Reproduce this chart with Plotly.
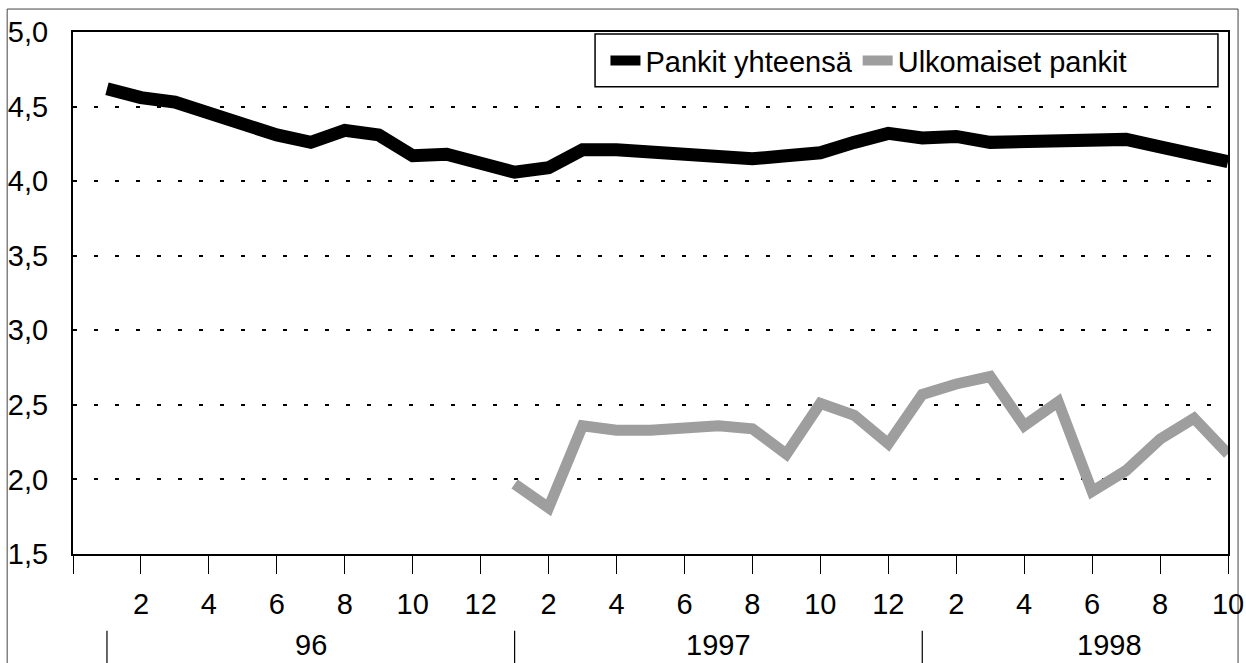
import plotly.graph_objects as go

# ---- data ----
years = ["96", "1997", "1998"]
months_per_year = [12, 12, 10]
month_numbers = [m for n in months_per_year for m in range(1, n + 1)]

pankit_yhteensa = [4.62, 4.56, 4.53, 4.46, 4.37, 4.31, 4.26, 4.34, 4.31, 4.17, 4.18, 4.12,
                   4.06, 4.09, 4.21, 4.21, 4.19, 4.17, 4.16, 4.15, 4.17, 4.19, 4.26, 4.32,
                   4.29, 4.30, 4.26, 4.26, 4.27, 4.27, 4.28, 4.23, 4.17, 4.13]
ulkomaiset_pankit = [None] * 12 + [1.97, 1.81, 2.36, 2.33, 2.33, 2.35, 2.36, 2.34, 2.17, 2.51, 2.43, 2.24,
                                   2.57, 2.64, 2.69, 2.36, 2.52, 1.92, 2.06, 2.27, 2.41, 2.17]

series_names = ["Pankit yhteensä", "Ulkomaiset pankit"]

x = list(range(1, len(month_numbers) + 1))
tickvals = list(range(0, len(month_numbers) + 1, 2))
ticktext = [""] + [str(month_numbers[v - 1]) for v in tickvals[1:]]

FONT = "Liberation Sans Narrow, Arial Narrow, Liberation Sans, Arial, sans-serif"

fig = go.Figure()
fig.add_trace(go.Scatter(x=x, y=pankit_yhteensa, name=series_names[0], mode="lines",
                         line=dict(color="black", width=13)))
fig.add_trace(go.Scatter(x=x, y=ulkomaiset_pankit, name=series_names[1], mode="lines",
                         line=dict(color="#9e9e9e", width=11)))

# year group labels and separators
starts = [1]
for n in months_per_year[:-1]:
    starts.append(starts[-1] + n)
ends = starts[1:] + [starts[-1] + months_per_year[-1] + 1]
annotations = []
shapes = []
for yr, s, e in zip(years, starts, ends):
    annotations.append(dict(x=(s + e) / 2, y=-0.175, xref="x", yref="paper", text=yr,
                            showarrow=False, font=dict(size=29, color="black", family=FONT),
                            yanchor="middle"))
    shapes.append(dict(type="line", xref="x", yref="paper", x0=s, x1=s, y0=-0.147, y1=-0.22,
                       line=dict(color="black", width=1.2)))

# legend box
shapes.append(dict(type="rect", xref="paper", yref="paper", x0=0.452, x1=0.9913, y0=0.895, y1=0.996,
                   line=dict(color="black", width=1.5), fillcolor="rgba(0,0,0,0)"))
# outer frame
shapes.append(dict(type="rect", xref="paper", yref="paper", x0=-0.057, x1=1.0087, y0=-0.3, y1=1.044,
                   line=dict(color="#444", width=1), fillcolor="rgba(0,0,0,0)", layer="below"))

fig.update_layout(
    width=1246, height=663,
    margin=dict(l=73, r=18, t=32, b=109, autoexpand=False),
    paper_bgcolor="white", plot_bgcolor="white",
    separators=", ",
    font=dict(family=FONT, size=29, color="black"),
    showlegend=True,
    legend=dict(orientation="h", x=0.461, xanchor="left", y=0.945, yanchor="middle",
                bgcolor="rgba(0,0,0,0)", borderwidth=0,
                font=dict(size=29, family=FONT), itemsizing="trace"),
    annotations=annotations,
    shapes=shapes,
)
fig.update_xaxes(range=[0, len(month_numbers)], tickmode="array", tickvals=tickvals, ticktext=ticktext,
                 ticks="outside", ticklen=18, tickwidth=1.2, tickcolor="black",
                 showline=True, linecolor="black", linewidth=2, mirror=True,
                 showgrid=False, zeroline=False, ticklabelstandoff=5, automargin=False)
fig.update_yaxes(range=[1.5, 5.0], dtick=0.5, tick0=1.5, tickformat=".1f",
                 ticks="", showline=True, linecolor="black", linewidth=2, mirror=True,
                 showgrid=True, gridcolor="black", gridwidth=1.5, griddash="4px,17px",
                 zeroline=False, ticklabelstandoff=17, automargin=False)

fig.write_html("out.html", config={"displayModeBar": False},
               post_script="document.body.style.margin='0';document.body.style.overflow='hidden';")
